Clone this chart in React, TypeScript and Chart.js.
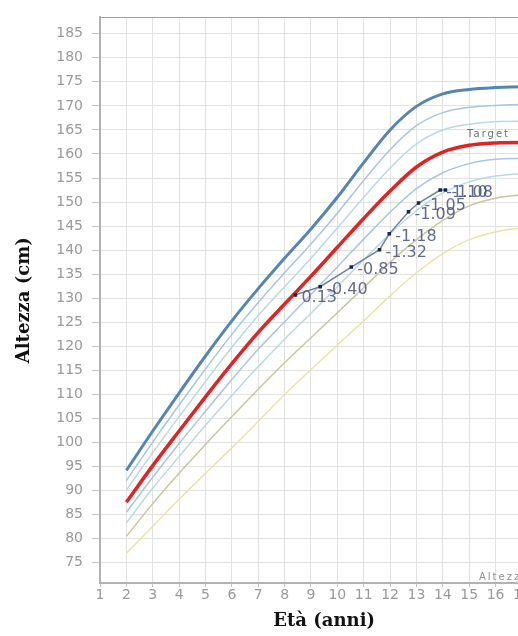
import React, { useEffect, useRef } from 'react';
import { Chart, registerables } from 'chart.js';

Chart.register(...registerables);

// ---- data ----
const ages = [2, 3, 4, 5, 6, 7, 8, 9, 10, 11, 12, 13, 14, 15, 16, 17, 18];

const curveTop = [94.2, 102.4, 110.3, 118.0, 125.3, 132.0, 138.3, 144.4, 151.0, 158.2, 165.0, 169.9, 172.5, 173.4, 173.8, 174.0, 174.0];
const curveHigh2 = [92.1, 100.1, 107.8, 115.3, 122.5, 129.1, 135.3, 141.3, 147.7, 154.5, 160.9, 165.9, 168.6, 169.7, 170.1, 170.3, 170.3];
const curveHigh1 = [90.1, 97.9, 105.4, 112.7, 119.8, 126.4, 132.4, 138.3, 144.6, 151.0, 157.1, 162.1, 165.0, 166.2, 166.7, 166.8, 166.8];
const curveTarget = [87.6, 95.2, 102.4, 109.5, 116.4, 122.9, 128.8, 134.6, 140.6, 146.6, 152.3, 157.3, 160.4, 161.8, 162.3, 162.4, 162.4];
const curveLow1 = [85.5, 92.8, 99.8, 106.5, 113.1, 119.4, 125.1, 130.8, 136.5, 142.3, 147.9, 152.8, 156.1, 158.0, 158.9, 159.1, 159.2];
const curveLow2 = [83.3, 90.5, 97.1, 103.6, 109.8, 115.8, 121.5, 126.9, 132.4, 138.0, 143.4, 148.2, 151.9, 154.2, 155.4, 155.9, 156.0];
const curveLow3 = [80.5, 87.3, 93.6, 99.6, 105.4, 111.1, 116.6, 121.8, 127.0, 132.2, 137.5, 142.2, 146.2, 149.2, 150.8, 151.5, 151.8];
const curveBottom = [77.0, 82.6, 88.2, 93.6, 98.9, 104.4, 110.0, 115.2, 120.3, 125.3, 130.5, 135.3, 139.3, 142.2, 143.8, 144.6, 144.9];

const patientAges = [8.41, 9.35, 10.53, 11.6, 11.97, 12.7, 13.08, 13.9, 14.1];
const patientHeights = [130.7, 132.4, 136.5, 140.1, 143.4, 148.0, 149.8, 152.5, 152.5];
const patientSds = ['0.13', '-0.40', '-0.85', '-1.32', '-1.18', '-1.09', '-1.05', '-1.10', '-1.08'];

const xTicks = [1, 2, 3, 4, 5, 6, 7, 8, 9, 10, 11, 12, 13, 14, 15, 16, 17, 18];
const yTicks = [75, 80, 85, 90, 95, 100, 105, 110, 115, 120, 125, 130, 135, 140, 145, 150, 155, 160, 165, 170, 175, 180, 185];

const xTitle = 'Età (anni)';
const yTitle = 'Altezza (cm)';
const targetLabel = { text: 'Target', x: 14.92, y: 164.0 };
const cornerLabel = { text: 'Altezza', x: 15.37, y: 72.0 };

const toPoints = (xs: number[], ys: number[]) => xs.map((x, i) => ({ x, y: ys[i] }));

const overlayPlugin = {
  id: 'overlay',
  afterDatasetsDraw(chart: any) {
    const { ctx, chartArea, scales } = chart;
    const x = scales.x;
    const y = scales.y;
    ctx.save();
    // top border
    ctx.strokeStyle = '#a0a0a0';
    ctx.lineWidth = 1;
    ctx.beginPath();
    ctx.moveTo(chartArea.left, Math.round(chartArea.top) + 0.5);
    ctx.lineTo(chartArea.right, Math.round(chartArea.top) + 0.5);
    ctx.stroke();

    // point labels
    ctx.font = '16px "DejaVu Sans"';
    ctx.fillStyle = 'rgba(72,80,128,0.85)';
    ctx.textAlign = 'left';
    ctx.textBaseline = 'middle';
    const meta = chart.getDatasetMeta(0);
    meta.data.forEach((pt: any, i: number) => {
      ctx.fillText(patientSds[i], pt.x + 6, pt.y + 3);
    });

    // small labels
    ctx.font = '10px "DejaVu Sans"';
    (ctx as any).letterSpacing = '2px';
    ctx.fillStyle = '#707070';
    ctx.fillText(targetLabel.text, x.getPixelForValue(targetLabel.x), y.getPixelForValue(targetLabel.y));
    ctx.fillStyle = '#909090';
    ctx.fillText(cornerLabel.text, x.getPixelForValue(cornerLabel.x), y.getPixelForValue(cornerLabel.y));
    ctx.restore();
  },
};

export default function App() {
  const canvasRef = useRef<HTMLCanvasElement | null>(null);

  useEffect(() => {
    if (!canvasRef.current) return;
    const curve = (data: number[], color: string, width: number) => ({
      type: 'line' as const,
      data: toPoints(ages, data),
      borderColor: color,
      borderWidth: width,
      pointRadius: 0,
      cubicInterpolationMode: 'monotone' as const,
      fill: false,
    });
    const chart = new Chart(canvasRef.current, {
      type: 'line',
      data: {
        datasets: [
          {
            data: toPoints(patientAges, patientHeights),
            borderColor: '#7080a8',
            borderWidth: 1.5,
            pointStyle: 'rect',
            pointRadius: 2.5,
            pointBackgroundColor: '#1a1f5e',
            pointBorderColor: '#1a1f5e',
            pointBorderWidth: 0,
            tension: 0,
            fill: false,
          } as any,
          curve(curveTarget, '#e02424', 3.5),
          curve(curveTop, '#5585b2', 3),
          curve(curveHigh2, '#a9c6df', 1.5),
          curve(curveHigh1, '#b9d9e6', 1.5),
          curve(curveLow1, '#a9c6df', 1.5),
          curve(curveLow2, '#b9d9e6', 1.5),
          curve(curveLow3, '#c9c79c', 1.5),
          curve(curveBottom, '#ebe4a6', 1.5),
        ],
      },
      options: {
        responsive: false,
        maintainAspectRatio: false,
        animation: false,
        devicePixelRatio: 1,
        layout: { padding: { top: 13, right: 11.7, bottom: 0, left: 0 } },
        plugins: { legend: { display: false }, tooltip: { enabled: false } },
        scales: {
          x: {
            type: 'linear',
            min: 1,
            max: 18,
            afterBuildTicks: (scale: any) => {
              scale.ticks = xTicks.map((v) => ({ value: v }));
            },
            afterFit: (scale: any) => {
              scale.height = 53;
            },
            grid: { color: '#e2e2e2', tickLength: 4, tickColor: '#c4c4c4' },
            border: { color: '#b2b2b2', width: 2 },
            ticks: {
              autoSkip: false,
              maxRotation: 0,
              padding: 0,
              color: '#9a9a9a',
              font: { family: 'DejaVu Sans', size: 14 },
              callback: (v: any) => String(v),
            },
            title: {
              display: true,
              text: xTitle,
              color: '#111',
              font: { family: 'DejaVu Serif', size: 18, weight: 'bold' },
              padding: { top: 0, bottom: 4 },
            },
          },
          y: {
            type: 'linear',
            min: 70.8,
            max: 188.4,
            afterBuildTicks: (scale: any) => {
              scale.ticks = yTicks.map((v) => ({ value: v }));
            },
            afterFit: (scale: any) => {
              scale.width = 100;
            },
            grid: { color: '#e2e2e2', tickLength: 8, tickColor: '#c4c4c4' },
            border: { color: '#b2b2b2', width: 2 },
            ticks: {
              padding: 9,
              color: '#9a9a9a',
              font: { family: 'DejaVu Sans', size: 14 },
              callback: (v: any) => String(v),
            },
            title: {
              display: true,
              text: yTitle,
              color: '#111',
              font: { family: 'DejaVu Serif', size: 18, weight: 'bold' },
              padding: { top: 14, bottom: 0 },
            },
          },
        },
      } as any,
      plugins: [overlayPlugin],
    });
    return () => chart.destroy();
  }, []);

  return (
    <div
      style={{
        position: 'fixed',
        left: 0,
        top: 0,
        width: 518,
        height: 636,
        overflow: 'hidden',
        background: '#fff',
      }}
    >
      <canvas ref={canvasRef} width={560} height={636} style={{ display: 'block' }} />
    </div>
  );
}
